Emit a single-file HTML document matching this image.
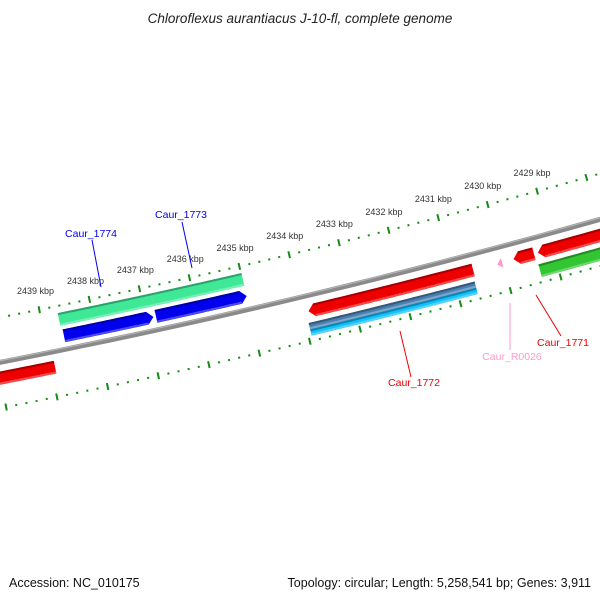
<!DOCTYPE html>
<html><head><meta charset="utf-8">
<style>
html,body{margin:0;padding:0;background:#fff;}
svg{display:block;font-family:"Liberation Sans",sans-serif;}
</style></head>
<body>
<svg id="map" width="600" height="600" viewBox="0 0 600 600" xmlns="http://www.w3.org/2000/svg">
<rect x="0" y="0" width="600" height="600" fill="#fff"/>
<text x="300" y="23" text-anchor="middle" font-size="13.5" font-style="italic" fill="#222">Chloroflexus aurantiacus J-10-fl, complete genome</text>
<g id="rulers"></g>
<g id="backbone"></g>
<g id="features"></g>
<g id="labels"></g>
<text x="9" y="587" font-size="12.5" fill="#111">Accession: NC_010175</text>
<text x="591" y="587" text-anchor="end" font-size="12.5" fill="#111">Topology: circular; Length: 5,258,541 bp; Genes: 3,911</text>
</svg>
<script>
// ---- data ----
const tickLabelsKbp = [2439, 2438, 2437, 2436, 2435, 2434, 2433, 2432, 2431, 2430, 2429];
const featureNames  = ['cog-1774','cog-1773','Caur_1774','Caur_1773','red-left','Caur_1772','cog-1772a','cog-1772b','Caur_R0026','Caur_1771','red-right','cog-right'];
const featureStarts = [2438.66, 2436.80, 2438.63, 2436.80, 2441.00, 2433.89, 2433.94, 2433.94, 2430.12, 2429.79, 2429.30, 2429.35];
const featureEnds   = [2436.80, 2434.99, 2436.85, 2434.99, 2438.92, 2430.60, 2430.63, 2430.63, 2430.02, 2429.38, 2426.00, 2426.00];
const featureStrand = [0, 0, 1, 1, -1, -1, 0, 0, -1, -1, -1, 0];
const featureInner  = [7488, 7488, 7505, 7505, 7534, 7534, 7552, 7558.5, 7536, 7534, 7534, 7552];
const featureOuter  = [7501, 7501, 7518, 7518, 7547, 7547, 7558.5, 7565, 7546, 7547, 7547, 7565];
const featureColors = ['#3ee896','#3ee896','#0000ee','#0000ee','#ee0000','#ee0000','#4a7fb0','#10c0ff','#ff99cc','#ee0000','#ee0000','#33c633'];
const labelTexts  = ['Caur_1774','Caur_1773','Caur_1772','Caur_R0026','Caur_1771'];
const labelColors = ['#0000ee','#0000ee','#ee0000','#ff99cc','#ee0000'];
// ---- geometry ----
const CX = -1443, CY = -7023, RB = 7525, RU = 7481, RL = 7570;
function ang(k){ return (78.18 - (2438 - k) * 0.392) * Math.PI / 180; }
function pt(k, r){ const a = ang(k); return [CX + r * Math.cos(a), CY + r * Math.sin(a)]; }
const NS = 'http://www.w3.org/2000/svg';
function mk(tag, attrs, parent){ const e = document.createElementNS(NS, tag); for (const k in attrs) e.setAttribute(k, attrs[k]); parent.appendChild(e); return e; }
function arcPts(k1, k2, r){ const out = []; const n = 30; for (let i = 0; i <= n; i++){ out.push(pt(k1 + (k2 - k1) * i / n, r)); } return out; }
function fmt(p){ return p.map(q => q[0].toFixed(2) + ',' + q[1].toFixed(2)).join(' '); }

const rulers = document.getElementById('rulers');
// ruler ticks
for (let i = 0; i <= 80; i++){
  const k = 2426 + i * 0.2;
  const major = Math.abs(k - Math.round(k)) < 1e-6;
  [RU, RL].forEach(function(R, j){
    const h = major ? 3.5 : 1;
    const a = pt(k, R - h), b = pt(k, R + h);
    const t = mk('line', {x1:a[0], y1:a[1], x2:b[0], y2:b[1], stroke:'#148c14', 'stroke-width': 2}, rulers);
    
    
  });
}
tickLabelsKbp.forEach(function(k){
  const p = pt(k, RU - 19);
  const t = mk('text', {x:p[0], y:p[1] + 3, 'text-anchor':'middle', 'font-size':9, fill:'#333'}, rulers);
  t.textContent = k + ' kbp';
  
  
});
// backbone
const bb = document.getElementById('backbone');
const bbMain = mk('polyline', {points: fmt(arcPts(2426, 2442, RB)), fill:'none', stroke:'#8a8a8a', 'stroke-width':5}, bb);


const bbHi = mk('polyline', {points: fmt(arcPts(2426, 2442, RB - 1.5)), fill:'none', stroke:'#b8b8b8', 'stroke-width':1}, bb);


// features
const fg = document.getElementById('features');
function shade(c, f){ const n = parseInt(c.slice(1), 16); let r = n >> 16, g = (n >> 8) & 255, b = n & 255;
  if (f < 0){ r *= 1 + f; g *= 1 + f; b *= 1 + f; } else { r += (255 - r) * f; g += (255 - g) * f; b += (255 - b) * f; }
  return 'rgb(' + Math.round(r) + ',' + Math.round(g) + ',' + Math.round(b) + ')'; }
for (let i = 0; i < featureNames.length; i++){
  const s = featureStarts[i], e = featureEnds[i], r1 = featureInner[i], r2 = featureOuter[i], st = featureStrand[i];
  const mid = (r1 + r2) / 2, head = 0.12;
  let pts;
  if (featureNames[i] === 'Caur_R0026'){
    pts = [pt(e, r1), pt(s, mid + 0.5), pt(e, r2)];
  } else if (st === 1){
    const hb = e + head;
    pts = arcPts(s, hb, r1).concat([pt(e, mid)]).concat(arcPts(hb, s, r2));
  } else if (st === -1){
    const hb = s - head;
    pts = [pt(s, mid)].concat(arcPts(hb, e, r1)).concat(arcPts(e, hb, r2));
  } else {
    pts = arcPts(s, e, r1).concat(arcPts(e, s, r2));
  }
  const poly = mk('polygon', {points: fmt(pts), fill: featureColors[i]}, fg);
  
  
  if (featureNames[i] !== 'Caur_R0026'){
    const k1 = st === -1 ? s - head : s, k2 = st === 1 ? e + head : e;
    const d = mk('polyline', {points: fmt(arcPts(k1, k2, r1 + 1)), fill:'none', stroke: shade(featureColors[i], -0.3), 'stroke-width': 2}, fg);
    
    
    const l = mk('polyline', {points: fmt(arcPts(k1, k2, r2 - 1.2)), fill:'none', stroke: shade(featureColors[i], 0.3), 'stroke-width': 2}, fg);
    
    
  }
}
// labels
const lg = document.getElementById('labels');
const labelPos  = [[91,237],[181,218],[414,386],[512,360],[563,346]];
const lineFrom  = [[92,240],[182,222],[411,377],[510,350],[561,336]];
const lineTo    = [[101,287],[192,268],[400,331],[510,303],[536,295]];
for (let i = 0; i < labelTexts.length; i++){
  const ln = mk('line', {x1:lineFrom[i][0], y1:lineFrom[i][1], x2:lineTo[i][0], y2:lineTo[i][1], stroke: labelColors[i], 'stroke-width':1}, lg);
  
  
  const t = mk('text', {x:labelPos[i][0], y:labelPos[i][1], 'text-anchor':'middle', 'font-size':10.5, fill: labelColors[i]}, lg);
  t.textContent = labelTexts[i];
  
  
}
</script>
</body></html>
